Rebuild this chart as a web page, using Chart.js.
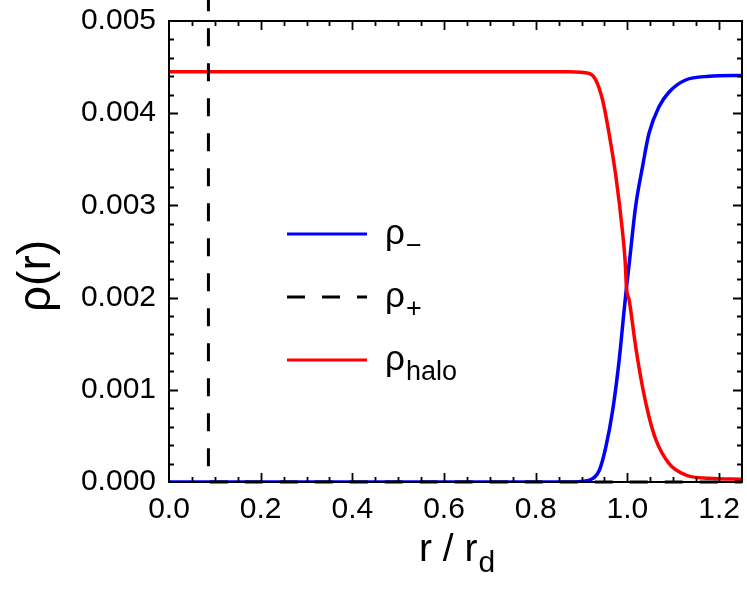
<!DOCTYPE html>
<html>
<head>
<meta charset="utf-8">
<script src="https://cdn.jsdelivr.net/npm/chart.js@4.4.1/dist/chart.umd.min.js"></script>
<style>
  body { margin: 0; background: #fff; }
  #wrap { width: 747px; height: 592px; }
</style>
</head>
<body>
<div id="wrap"><canvas id="myChart" width="747" height="592"></canvas></div>
<script>
// rho_minus (blue)
var xMinus = [0, 0.873, 0.917, 0.939, 0.953, 0.968, 0.982, 0.993, 0.998, 1.004, 1.018, 1.033, 1.047, 1.069, 1.091, 1.127, 1.178, 1.25];
var yMinus = [0, 0, 0.00002, 0.00013, 0.00038, 0.00078, 0.00132, 0.00187, 0.00211, 0.00237, 0.00299, 0.00342, 0.00378, 0.00407, 0.00423, 0.00436, 0.00440, 0.00441];

// rho_plus (black dashed)
var xPlus = [0.086, 0.086, 1.25];
var yPlus = [0.0053, 0, 0];

// rho_halo (red)
var xHalo = [0, 0.873, 0.917, 0.931, 0.946, 0.960, 0.975, 0.989, 0.995, 0.998, 1.004, 1.018, 1.033, 1.047, 1.062, 1.091, 1.127, 1.178, 1.25];
var yHalo = [0.00445, 0.00445, 0.00443, 0.00436, 0.00414, 0.00378, 0.00331, 0.00273, 0.00240, 0.00211, 0.00197, 0.00147, 0.00103, 0.00071, 0.00046, 0.00020, 0.000076, 0.00004, 0.00003];

var xTicks = [0, 0.2, 0.4, 0.6, 0.8, 1.0, 1.2];
var yTicks = [0, 0.001, 0.002, 0.003, 0.004, 0.005];

var legendNames = ["−", "+", "halo"];
var lineColors = ["#0000ff", "#000000", "#ff0000"];

function pts(xs, ys) {
  return xs.map(function (x, i) { return {x: x, y: ys[i]}; });
}

var FONT = "'Liberation Sans', Arial, sans-serif";

var framePlugin = {
  id: "frame",
  afterDraw: function (chart) {
    var ctx = chart.ctx, a = chart.chartArea;
    var xs = chart.scales.x, ys = chart.scales.y;
    ctx.save();
    ctx.strokeStyle = "#000";
    ctx.lineWidth = 2;
    ctx.strokeRect(a.left, a.top, a.right - a.left, a.bottom - a.top);

    // inward ticks, all four sides
    ctx.lineWidth = 1.8;
    ctx.beginPath();
    for (var i = 1; i < 25; i++) {
      var v = i * 0.05;
      var px = Math.round(xs.getPixelForValue(v)) + 0.5;
      var len = (i % 4 === 0) ? 9 : 5;
      ctx.moveTo(px, a.bottom); ctx.lineTo(px, a.bottom - len);
      ctx.moveTo(px, a.top); ctx.lineTo(px, a.top + len);
    }
    for (var j = 1; j < 25; j++) {
      var w = j * 0.0002;
      var py = Math.round(ys.getPixelForValue(w)) + 0.5;
      var l2 = (j % 5 === 0) ? 9 : 5;
      ctx.moveTo(a.left, py); ctx.lineTo(a.left + l2, py);
      ctx.moveTo(a.right, py); ctx.lineTo(a.right - l2, py);
    }
    ctx.stroke();

    // legend
    var rows = [234, 297, 360];
    for (var k = 0; k < 3; k++) {
      var y = rows[k];
      ctx.strokeStyle = lineColors[k];
      ctx.lineWidth = 3;
      ctx.setLineDash(k === 1 ? [18, 17] : []);
      ctx.beginPath();
      ctx.moveTo(287, y); ctx.lineTo(367, y);
      ctx.stroke();
      ctx.setLineDash([]);
      ctx.fillStyle = "#000";
      ctx.textBaseline = "alphabetic";
      ctx.textAlign = "left";
      ctx.font = "35px " + FONT;
      ctx.fillText("ρ", 385, y + 10);
      var wRho = ctx.measureText("ρ").width;
      ctx.font = "27px " + FONT;
      ctx.fillText(legendNames[k], 385 + wRho + 1, y + 20);
    }

    // axis titles
    ctx.fillStyle = "#000";
    ctx.font = "39px " + FONT;
    ctx.textAlign = "left";
    var main = "r / r";
    var mw = ctx.measureText(main).width;
    var sx = 419;
    ctx.fillText(main, sx, 561);
    ctx.font = "30px " + FONT;
    ctx.fillText("d", sx + mw + 1, 572);

    ctx.translate(50, 276);
    ctx.rotate(-Math.PI / 2);
    ctx.font = "46px " + FONT;
    ctx.textAlign = "center";
    ctx.fillText("ρ(r)", 0, 0);
    ctx.restore();
  }
};

new Chart("myChart", {
  type: "scatter",
  data: {
    datasets: [{
      label: "rho_minus",
      data: pts(xMinus, yMinus),
      showLine: true,
      borderColor: lineColors[0],
      borderWidth: 3.5,
      pointRadius: 0,
      cubicInterpolationMode: "monotone",
      order: 3
    }, {
      label: "rho_plus",
      data: pts(xPlus, yPlus),
      showLine: true,
      borderColor: lineColors[1],
      borderWidth: 3,
      borderDash: [18, 17],
      pointRadius: 0,
      clip: false,
      order: 1
    }, {
      label: "rho_halo",
      data: pts(xHalo, yHalo),
      showLine: true,
      borderColor: lineColors[2],
      borderWidth: 3.5,
      pointRadius: 0,
      cubicInterpolationMode: "monotone",
      order: 2
    }]
  },
  options: {
    responsive: false,
    animation: false,
    layout: {padding: {left: 0, top: 21, right: 5, bottom: 0}},
    plugins: {legend: {display: false}, tooltip: {enabled: false}},
    scales: {
      x: {
        type: "linear", min: 0, max: 1.25,
        grid: {display: false, drawTicks: false},
        border: {display: false},
        afterBuildTicks: function (s) { s.ticks = xTicks.map(function (v) { return {value: v}; }); },
        afterFit: function (s) { s.height = 110; s.paddingLeft = 0; s.paddingRight = 0; },
        ticks: {
          padding: 10, color: "#000",
          font: {family: FONT, size: 30},
          maxRotation: 0, autoSkip: false,
          callback: function (v) { return v.toFixed(1); }
        }
      },
      y: {
        type: "linear", min: 0, max: 0.005,
        grid: {display: false, drawTicks: false},
        border: {display: false},
        afterBuildTicks: function (s) { s.ticks = yTicks.map(function (v) { return {value: v}; }); },
        afterFit: function (s) { s.width = 169; s.paddingTop = 0; s.paddingBottom = 0; },
        ticks: {
          padding: 13, color: "#000",
          font: {family: FONT, size: 30},
          autoSkip: false,
          callback: function (v) { return v.toFixed(3); }
        }
      }
    }
  },
  plugins: [framePlugin]
});
</script>
</body>
</html>
